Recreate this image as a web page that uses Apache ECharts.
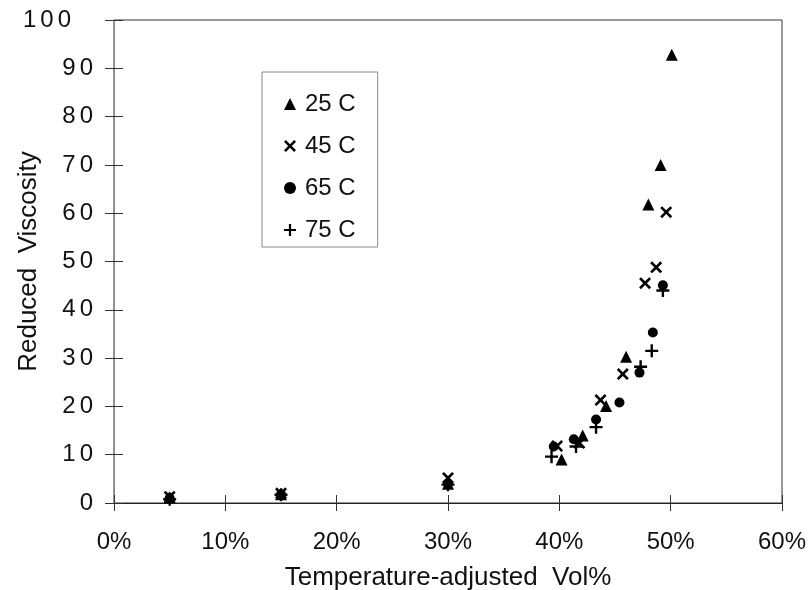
<!DOCTYPE html>
<html><head><meta charset="utf-8">
<script src="https://cdn.jsdelivr.net/npm/echarts@6/dist/echarts.min.js"></script>
<style>html,body{margin:0;padding:0;background:#fff}#c{width:809px;height:590px}</style>
</head><body><div id="c"></div>
<script>
var seriesNames = ['25 C', '45 C', '65 C', '75 C'];
var xTicks = [0, 10, 20, 30, 40, 50, 60];
var yTicks = [0, 10, 20, 30, 40, 50, 60, 70, 80, 90, 100];
var s25 = [[5,1.2],[15,1.8],[30,4],[40.2,9],[42.1,14],[44.2,20.1],[46,30.3],[48,61.8],[49.1,70],[50.1,92.8]];
var s45 = [[5,1.3],[15,2],[30,5.2],[39.8,11.8],[41.8,12.4],[43.7,21.3],[45.7,26.7],[47.7,45.5],[48.7,48.8],[49.6,60.2]];
var s65 = [[5,1],[15,1.8],[30,4],[39.5,11.7],[41.3,13.2],[43.3,17.3],[45.4,20.8],[47.2,27],[48.4,35.3],[49.3,45.1]];
var s75 = [[5,0.8],[15,1.7],[30,3.8],[39.3,9.6],[41.5,11.7],[43.3,15.7],[47.3,28.2],[48.3,31.5],[49.3,44]];

var plusPath = 'path://M-1.1,-6H1.1V-1.1H6V1.1H1.1V6H-1.1V1.1H-6V-1.1H-1.1Z';
var xPath = 'path://M-4,-5.8L0,-1.8L4,-5.8L5.8,-4L1.8,0L5.8,4L4,5.8L0,1.8L-4,5.8L-5.8,4L-1.8,0L-5.8,-4Z';
var symbols = ['triangle', xPath, 'circle', plusPath];
var sizes = [12, 12, 10, 13];
var datas = [s25, s45, s65, s75];

var font = 'Liberation Sans, Arial, sans-serif';
var chart = echarts.init(document.getElementById('c'));
function spaced(v) {
  var chars = String(v).split('');
  return chars.map(function (ch, i) {
    var st = (v === 100 && i === chars.length - 1) ? 'e' : 'd';
    return '{' + st + '|' + ch + '}';
  }).join('');
}
chart.setOption({
  animation: false,
  grid: {left: 114, right: 27, top: 20, bottom: 87, show: true, borderColor: '#333', borderWidth: 1,
         outerBoundsMode: 'none', containLabel: false},
  legend: {
    orient: 'vertical', left: 262, top: 72,
    data: seriesNames,
    itemWidth: 12, itemHeight: 12, itemGap: 18,
    padding: [20, 22, 5, 22],
    borderColor: '#888', borderWidth: 1, backgroundColor: '#fff',
    textStyle: {fontFamily: font, fontSize: 24, color: '#111', lineHeight: 24, padding: [0, 0, 0, 4]}
  },
  xAxis: [{
    type: 'value', min: 0, max: 60, interval: 10,
    name: 'Temperature-adjusted  Vol%', nameLocation: 'middle', nameGap: 62, nameMoveOverlap: false,
    nameTextStyle: {fontFamily: font, fontSize: 26, color: '#111'},
    axisLine: {onZero: false, lineStyle: {color: '#222'}},
    axisTick: {show: true, inside: false, length: 8, lineStyle: {color: '#333'}},
    axisLabel: {fontFamily: font, fontSize: 24, color: '#111', margin: 27, formatter: '{value}%'},
    splitLine: {show: false}
  }, {
    type: 'value', min: 0, max: 60, interval: 10, position: 'bottom',
    axisLine: {show: false},
    axisTick: {show: true, inside: true, length: 8, lineStyle: {color: '#333'}},
    axisLabel: {show: false}, splitLine: {show: false}
  }],
  yAxis: [{
    type: 'value', min: 0, max: 100, interval: 10,
    name: 'Reduced  Viscosity', nameLocation: 'middle', nameGap: 72, nameRotate: 90, nameMoveOverlap: false,
    nameTextStyle: {fontFamily: font, fontSize: 26, color: '#111'},
    axisLine: {show: true, onZero: false, lineStyle: {color: '#888'}},
    axisTick: {show: true, inside: false, length: 9, lineStyle: {color: '#333'}},
    axisLabel: {
      fontFamily: font, fontSize: 24, color: '#111', margin: 19,
      formatter: function (v) { return spaced(v); },
      rich: {
        d: {fontFamily: font, fontSize: 24, color: '#111', padding: [0, 2, 0, 2]},
        e: {fontFamily: font, fontSize: 24, color: '#111', padding: [0, 24, 0, 2]}
      }
    },
    splitLine: {show: false}
  }, {
    type: 'value', min: 0, max: 100, interval: 10, position: 'left',
    axisLine: {show: false},
    axisTick: {show: true, inside: true, length: 9, lineStyle: {color: '#333'}},
    axisLabel: {show: false}, splitLine: {show: false}
  }],
  series: seriesNames.map(function (n, i) {
    return {
      name: n, type: 'scatter', data: datas[i],
      symbol: symbols[i], symbolSize: sizes[i],
      itemStyle: {color: '#000', opacity: 1}
    };
  })
});
</script>
</body></html>
